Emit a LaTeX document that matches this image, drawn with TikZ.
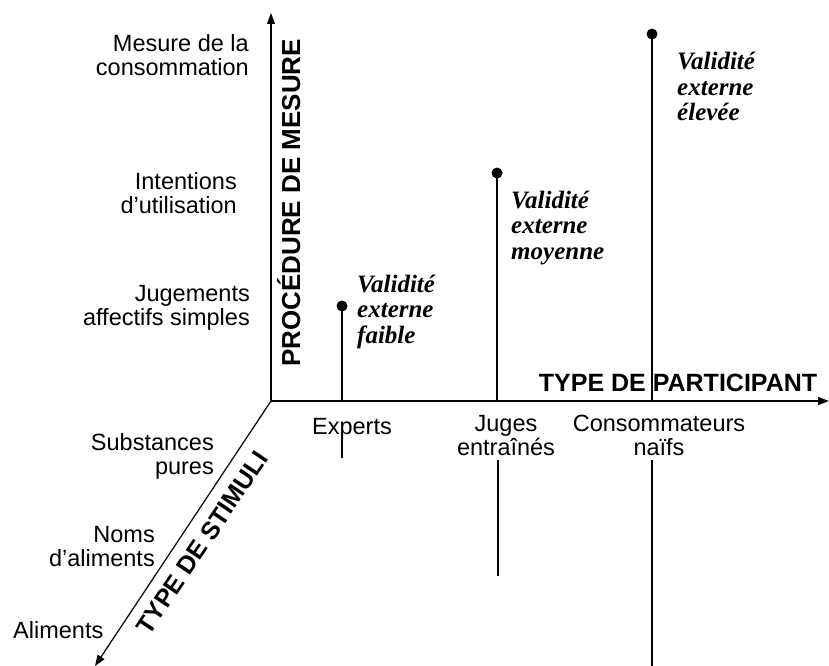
\documentclass[tikz,border=0pt]{standalone}
\usepackage{fontspec}
\setmainfont{Liberation Sans}
\newfontfamily\tnr{Liberation Serif}
\usetikzlibrary{arrows.meta}
\begin{document}
\begin{tikzpicture}[x=1bp,y=-1bp,
  lbl/.style={inner sep=0pt,font=\fontsize{23.5bp}{24bp}\selectfont},
  val/.style={inner sep=0pt,align=left,anchor=base west,font=\tnr\bfseries\itshape\fontsize{25bp}{25.5bp}\selectfont},
  axlbl/.style={inner sep=0pt,font=\bfseries\fontsize{25bp}{26bp}\selectfont},
  axisline/.style={line width=1.2bp,-{Triangle[length=11bp,width=8bp]}},
  stem/.style={line width=1.2bp},
  dot/.style={circle,fill=black,inner sep=0pt,minimum size=11bp}]
\useasboundingbox (0,0) rectangle (829,666);
% axes
\coordinate (O) at (271,401);
\coordinate (ytip) at (271,13);
\coordinate (xtip) at (829,401);
\coordinate (ztip) at (95,666);
\draw[axisline] (O) -- (ytip);
\draw[axisline] (O) -- (xtip);
\draw[axisline] (O) -- (ztip);
% axis titles
\node[axlbl,rotate=90,anchor=base,font=\bfseries\fontsize{26bp}{27bp}\selectfont] (tproc) at (300,203) {PROCÉDURE DE MESURE};
\node[axlbl,anchor=base] (tpart) at (678,391) {TYPE DE PARTICIPANT};
\node[axlbl,rotate=56,anchor=center] (tstim) at (202,543) {TYPE DE STIMULI};
% left labels (anchor = baseline of last line)
\node[lbl,align=right,anchor=base east] (lmes) at (249,76) {Mesure de la\\consommation};
\node[lbl,align=right,anchor=base east] (lint) at (237,213) {Intentions\\d’utilisation};
\node[lbl,align=right,anchor=base east] (ljug) at (250,325) {Jugements\\affectifs simples};
% participant labels
\node[lbl,anchor=base] (pexp) at (352,434) {Experts};
\node[lbl,align=center,anchor=base] (pjug) at (506,455) {Juges\\entraînés};
\node[lbl,align=center,anchor=base] (pcon) at (659,455) {Consommateurs\\naïfs};
% stimuli labels
\node[lbl,align=right,anchor=base east] (ssub) at (214,474) {Substances\\pures};
\node[lbl,align=right,anchor=base east] (snom) at (155,566) {Noms\\d’aliments};
\node[lbl,anchor=base west] (sali) at (13,638) {Aliments};
% lollipops
\node[dot] (d1) at (342,306) {};
\node[dot] (d2) at (497,173) {};
\node[dot] (d3) at (652,34) {};
\coordinate (a1) at (342,400);
\coordinate (a2) at (497,400);
\coordinate (a3) at (652,400);
\draw[stem] (d1.center) -- (a1);
\draw[stem] (d2.center) -- (a2);
\draw[stem] (d3.center) -- (a3);
% lower segments
\coordinate (b1t) at (342,436);
\coordinate (b1b) at (342,458);
\coordinate (b2t) at (498,460);
\coordinate (b2b) at (498,576);
\coordinate (b3t) at (652,460);
\coordinate (b3b) at (652,666);
\draw[stem] (b1t) -- (b1b);
\draw[stem] (b2t) -- (b2b);
\draw[stem] (b3t) -- (b3b);
% validity labels (anchor = baseline of last line)
\node[val] (v1) at (357,343) {Validité\\externe\\faible};
\node[val] (v2) at (511,259) {Validité\\externe\\moyenne};
\node[val] (v3) at (677,121) {Validité\\externe\\élevée};
\end{tikzpicture}
\end{document}
